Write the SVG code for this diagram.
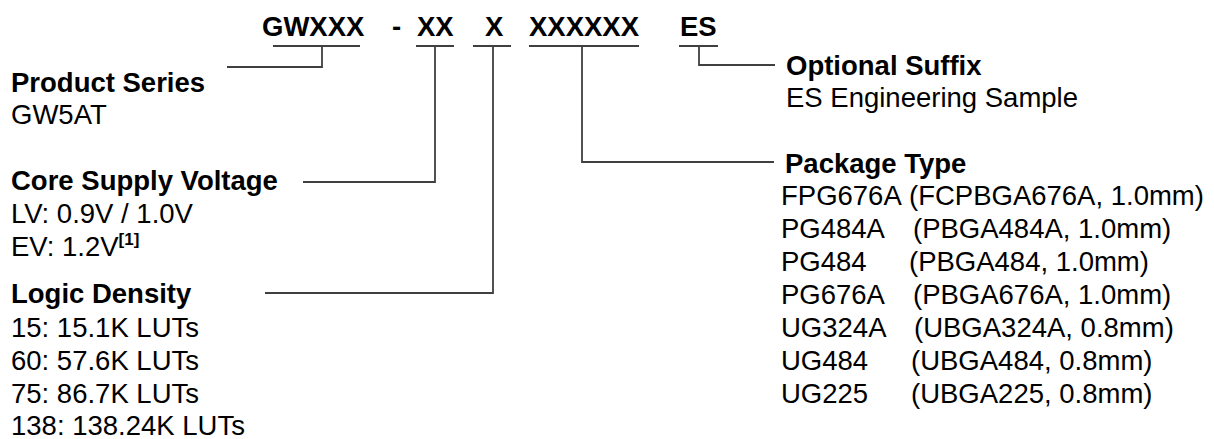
<svg xmlns="http://www.w3.org/2000/svg" width="1214" height="439" viewBox="0 0 1214 439">
<style>
text{font-family:"Liberation Sans",Arial,sans-serif;font-size:27.5px;fill:#000}
.b{font-weight:bold}
.sup{font-size:17px;font-weight:bold}
.ln{stroke:#404040;stroke-width:1.8;fill:none}
</style>
<rect width="1214" height="439" fill="#fff"/>
<g id="title">
<text class="b" x="262" y="36">GWXXX</text>
<text class="b" x="392" y="36">-</text>
<text class="b" x="417" y="36">XX</text>
<text class="b" x="485" y="36">X</text>
<text class="b" x="529" y="36">XXXXXX</text>
<text class="b" x="680" y="36">ES</text>
</g>
<g id="connectors">
<path class="ln" d="M273 46H360M322 46V67H227"/>
<path class="ln" d="M416 46H454M435 46V182H303"/>
<path class="ln" d="M473 46H511M493 46V293H265"/>
<path class="ln" d="M529 46H639M582 46V162H774"/>
<path class="ln" d="M679 46H718M699 46V65H775"/>
</g>
<g id="product-series">
<text class="b" x="11" y="92">Product Series</text>
<text x="11" y="124">GW5AT</text>
</g>
<g id="core-supply-voltage">
<text class="b" x="11" y="190">Core Supply Voltage</text>
<text x="11" y="223">LV: 0.9V / 1.0V</text>
<text x="11" y="256">EV: 1.2V<tspan class="sup" dy="-11">[1]</tspan></text>
</g>
<g id="logic-density">
<text class="b" x="11" y="303">Logic Density</text>
<text x="11" y="337">15: 15.1K LUTs</text>
<text x="11" y="370">60: 57.6K LUTs</text>
<text x="11" y="403">75: 86.7K LUTs</text>
<text x="11" y="435">138: 138.24K LUTs</text>
</g>
<g id="optional-suffix">
<text class="b" x="786" y="75">Optional Suffix</text>
<text x="786" y="107">ES Engineering Sample</text>
</g>
<g id="package-type">
<text class="b" x="785" y="173">Package Type</text>
<text x="781" y="205">FPG676A</text><text x="909" y="205">(FCPBGA676A, 1.0mm)</text>
<text x="781" y="238">PG484A</text><text x="913" y="238">(PBGA484A, 1.0mm)</text>
<text x="781" y="271">PG484</text><text x="909" y="271">(PBGA484, 1.0mm)</text>
<text x="781" y="304">PG676A</text><text x="913" y="304">(PBGA676A, 1.0mm)</text>
<text x="781" y="337">UG324A</text><text x="914" y="337">(UBGA324A, 0.8mm)</text>
<text x="781" y="370">UG484</text><text x="911" y="370">(UBGA484, 0.8mm)</text>
<text x="781" y="403">UG225</text><text x="911" y="403">(UBGA225, 0.8mm)</text>
</g>
</svg>
